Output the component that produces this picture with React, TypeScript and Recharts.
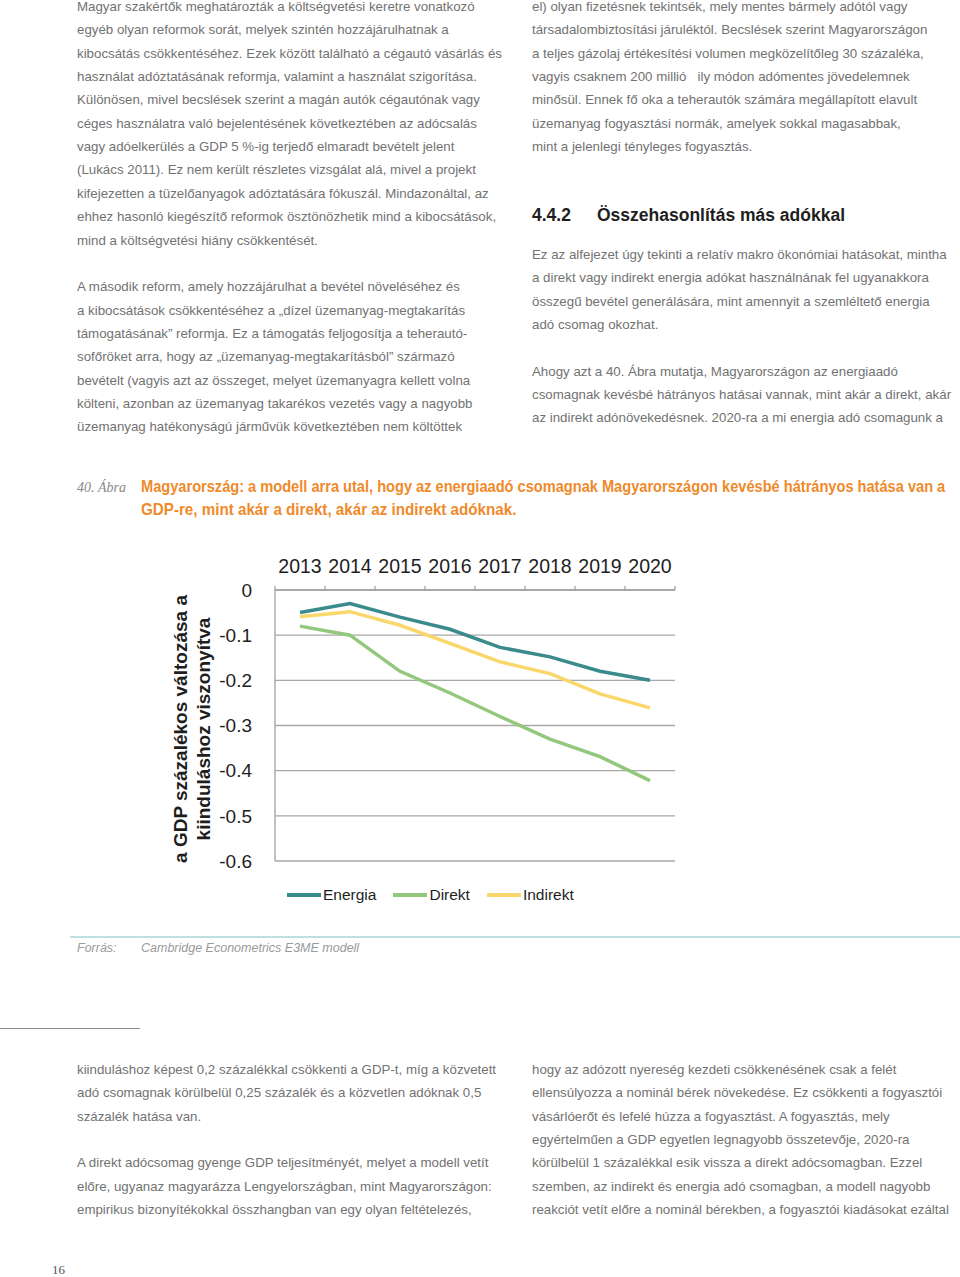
import React, { useLayoutEffect, useRef, useState } from 'react';
import { LineChart, Line, XAxis, YAxis, CartesianGrid, Legend } from 'recharts';

// GDP change vs. baseline (%)
const years = ['2013', '2014', '2015', '2016', '2017', '2018', '2019', '2020'];
const energia = [-0.05, -0.03, -0.06, -0.087, -0.127, -0.148, -0.18, -0.2];
const direkt = [-0.08, -0.1, -0.18, -0.228, -0.28, -0.33, -0.369, -0.422];
const indirekt = [-0.059, -0.048, -0.078, -0.118, -0.159, -0.185, -0.23, -0.261];
const yTicks = [0, -0.1, -0.2, -0.3, -0.4, -0.5, -0.6];
const seriesOrder = ['Energia', 'Direkt', 'Indirekt'];

const data = years.map((year, i) => ({
  year,
  Energia: energia[i],
  Direkt: direkt[i],
  Indirekt: indirekt[i],
}));

const colors = { Energia: '#3b8a8c', Direkt: '#93c77b', Indirekt: '#fad76a' };

const leftTop = [
  'Magyar szakértők meghatározták a költségvetési keretre vonatkozó',
  'egyéb olyan reformok sorát, melyek szintén hozzájárulhatnak a',
  'kibocsátás csökkentéséhez. Ezek között található a cégautó vásárlás és',
  'használat adóztatásának reformja, valamint a használat szigorítása.',
  'Különösen, mivel becslések szerint a magán autók cégautónak vagy',
  'céges használatra való bejelentésének következtében az adócsalás',
  'vagy adóelkerülés a GDP 5 %-ig terjedő elmaradt bevételt jelent',
  '(Lukács 2011). Ez nem került részletes vizsgálat alá, mivel a projekt',
  'kifejezetten a tüzelőanyagok adóztatására fókuszál. Mindazonáltal, az',
  'ehhez hasonló kiegészítő reformok ösztönözhetik mind a kibocsátások,',
  'mind a költségvetési hiány csökkentését.',
  '',
  'A második reform, amely hozzájárulhat a bevétel növeléséhez és',
  'a kibocsátások csökkentéséhez a „dízel üzemanyag-megtakarítás',
  'támogatásának” reformja. Ez a támogatás feljogosítja a teherautó-',
  'sofőröket arra, hogy az „üzemanyag-megtakarításból” származó',
  'bevételt (vagyis azt az összeget, melyet üzemanyagra kellett volna',
  'költeni, azonban az üzemanyag takarékos vezetés vagy a nagyobb',
  'üzemanyag hatékonyságú járművük következtében nem költöttek',
];

const rightTop = [
  'el) olyan fizetésnek tekintsék, mely mentes bármely adótól vagy',
  'társadalombiztosítási járuléktól. Becslések szerint Magyarországon',
  'a teljes gázolaj értékesítési volumen megközelítőleg 30 százaléka,',
  'vagyis csaknem 200 millió   ily módon adómentes jövedelemnek',
  'minősül. Ennek fő oka a teherautók számára megállapított elavult',
  'üzemanyag fogyasztási normák, amelyek sokkal magasabbak,',
  'mint a jelenlegi tényleges fogyasztás.',
];

const rightMid = [
  'Ez az alfejezet úgy tekinti a relatív makro ökonómiai hatásokat, mintha',
  'a direkt vagy indirekt energia adókat használnának fel ugyanakkora',
  'összegű bevétel generálására, mint amennyit a szemléltető energia',
  'adó csomag okozhat.',
  '',
  'Ahogy azt a 40. Ábra mutatja, Magyarországon az energiaadó',
  'csomagnak kevésbé hátrányos hatásai vannak, mint akár a direkt, akár',
  'az indirekt adónövekedésnek. 2020-ra a mi energia adó csomagunk a',
];

const leftBottom = [
  'kiinduláshoz képest 0,2 százalékkal csökkenti a GDP-t, míg a közvetett',
  'adó csomagnak körülbelül 0,25 százalék és a közvetlen adóknak 0,5',
  'százalék hatása van.',
  '',
  'A direkt adócsomag gyenge GDP teljesítményét, melyet a modell vetít',
  'előre, ugyanaz magyarázza Lengyelországban, mint Magyarországon:',
  'empirikus bizonyítékokkal összhangban van egy olyan feltételezés,',
];

const rightBottom = [
  'hogy az adózott nyereség kezdeti csökkenésének csak a felét',
  'ellensúlyozza a nominál bérek növekedése. Ez csökkenti a fogyasztói',
  'vásárlóerőt és lefelé húzza a fogyasztást. A fogyasztás, mely',
  'egyértelműen a GDP egyetlen legnagyobb összetevője, 2020-ra',
  'körülbelül 1 százalékkal esik vissza a direkt adócsomagban. Ezzel',
  'szemben, az indirekt és energia adó csomagban, a modell nagyobb',
  'reakciót vetít előre a nominál bérekben, a fogyasztói kiadásokat ezáltal',
];

const captionLines = [
  'Magyarország: a modell arra utal, hogy az energiaadó csomagnak Magyarországon kevésbé hátrányos hatása van a',
  'GDP-re, mint akár a direkt, akár az indirekt adóknak.',
];
const captionWidths = [804, 375];

const bodyFont = '"Liberation Sans", Arial, sans-serif';
const LINE_H = 23.35;

const TextBlock = ({ lines, left, firstCenter }: { lines: string[]; left: number; firstCenter: number }) => (
  <>
    {lines.map((l, i) => (
      <div
        key={i}
        style={{
          position: 'absolute',
          left,
          top: Math.max(0, firstCenter + i * LINE_H - 7),
          fontFamily: bodyFont,
          fontSize: 13.3,
          lineHeight: '14px',
          color: '#727272',
          whiteSpace: 'pre',
        }}
      >
        {l}
      </div>
    ))}
  </>
);

// squeezes a line horizontally to a target width (the original uses a condensed face)
const FitLine = ({ text, width, left, top }: { text: string; width: number; left: number; top: number }) => {
  const ref = useRef<HTMLDivElement>(null);
  const [scale, setScale] = useState(0.85);
  useLayoutEffect(() => {
    if (ref.current) {
      const natural = ref.current.scrollWidth;
      if (natural > 0) setScale(width / natural);
    }
  }, [text, width]);
  return (
    <div
      ref={ref}
      style={{
        position: 'absolute',
        left,
        top,
        fontFamily: bodyFont,
        fontWeight: 'bold',
        fontSize: 17,
        lineHeight: '20px',
        color: '#ef8a2b',
        whiteSpace: 'pre',
        transform: `scaleX(${scale})`,
        transformOrigin: '0 0',
      }}
    >
      {text}
    </div>
  );
};

const YearTick = (props: any) => {
  const { x, y, payload, index } = props;
  const half = payload && payload.offset ? payload.offset : 25;
  const axisY = y + 17;
  const last = index === years.length - 1;
  return (
    <g>
      <line x1={x - half} x2={x - half} y1={axisY} y2={axisY - 4} stroke="#9c9c9c" strokeWidth={1.2} />
      {last && <line x1={x + half} x2={x + half} y1={axisY} y2={axisY - 4} stroke="#9c9c9c" strokeWidth={1.2} />}
      <text x={x} y={y} textAnchor="middle" fontSize={19.5} fill="#1e1e1e" fontFamily={bodyFont}>
        {payload.value}
      </text>
    </g>
  );
};

const LegendContent = (props: any) => {
  const items = [...(props.payload || [])].sort(
    (a: any, b: any) => seriesOrder.indexOf(a.value) - seriesOrder.indexOf(b.value)
  );
  return (
    <div style={{ display: 'flex', paddingLeft: 127, fontFamily: bodyFont, fontSize: 15.5, color: '#1e1e1e' }}>
      {items.map((p: any) => (
        <div key={p.value} style={{ display: 'flex', alignItems: 'center', marginRight: 17 }}>
          <div style={{ width: 34, height: 4, background: p.color, marginRight: 2 }} />
          <span>{p.value}</span>
        </div>
      ))}
    </div>
  );
};

export default function App() {
  return (
    <div style={{ position: 'absolute', left: 0, top: 0, width: 960, height: 1277, background: '#fff', overflow: 'hidden' }}>
      <TextBlock lines={leftTop} left={77} firstCenter={7} />
      <TextBlock lines={rightTop} left={532} firstCenter={7} />
      <div
        style={{
          position: 'absolute',
          left: 532,
          top: 203,
          fontFamily: bodyFont,
          fontWeight: 'bold',
          fontSize: 17.5,
          color: '#1e1e1e',
          whiteSpace: 'pre',
          lineHeight: '24px',
        }}
      >
        <span style={{ display: 'inline-block', width: 65 }}>4.4.2</span>Összehasonlítás más adókkal
      </div>
      <TextBlock lines={rightMid} left={532} firstCenter={255} />

      {/* caption */}
      <div
        style={{
          position: 'absolute',
          left: 77,
          top: 476,
          fontFamily: '"Liberation Serif", serif',
          fontStyle: 'italic',
          fontSize: 14,
          color: '#8a8a8a',
          lineHeight: '23px',
        }}
      >
        40. Ábra
      </div>
      {captionLines.map((t, i) => (
        <FitLine key={i} text={t} width={captionWidths[i]} left={141} top={477 + i * 23} />
      ))}

      {/* chart */}
      <div style={{ position: 'absolute', left: 160, top: 540, width: 540, height: 380 }}>
        <LineChart width={540} height={380} data={data} margin={{ top: 10, right: 25, left: 0, bottom: 59 }}>
          <CartesianGrid horizontal vertical={false} stroke="#a8a8a8" strokeWidth={1.3} />
          <XAxis
            dataKey="year"
            orientation="top"
            scale="band"
            height={40}
            tickSize={4}
            tickMargin={13}
            tickLine={false}
            axisLine={{ stroke: '#a0a0a0', strokeWidth: 1.3 }}
            tick={<YearTick />}
            interval={0}
          />
          <YAxis
            type="number"
            domain={[-0.6, 0]}
            ticks={yTicks}
            width={115}
            tickLine={false}
            tickMargin={17}
            axisLine={{ stroke: '#a0a0a0', strokeWidth: 1.3 }}
            tickFormatter={(v: number) => (v === 0 ? '0' : v.toFixed(1))}
            tick={{ fontSize: 19, fill: '#1e1e1e', fontFamily: bodyFont }}
            interval={0}
          />
          <Legend
            layout="horizontal"
            verticalAlign="middle"
            align="center"
            content={<LegendContent />}
            wrapperStyle={{ top: 346, left: 0, width: 540 }}
          />
          <Line dataKey="Energia" stroke={colors.Energia} strokeWidth={3.5} dot={false} isAnimationActive={false} />
          <Line dataKey="Direkt" stroke={colors.Direkt} strokeWidth={3.5} dot={false} isAnimationActive={false} />
          <Line dataKey="Indirekt" stroke={colors.Indirekt} strokeWidth={3.5} dot={false} isAnimationActive={false} />
        </LineChart>
        <div
          style={{
            position: 'absolute',
            left: 31.5 - 150,
            top: 189 - 23,
            width: 300,
            height: 46,
            transform: 'rotate(-90deg)',
            textAlign: 'center',
            fontFamily: bodyFont,
            fontWeight: 'bold',
            fontSize: 19,
            lineHeight: '23px',
            color: '#1e1e1e',
            whiteSpace: 'pre',
          }}
        >
          <div>a GDP százalékos változása a</div>
          <div>kiinduláshoz viszonyítva</div>
        </div>
      </div>

      {/* source */}
      <div style={{ position: 'absolute', left: 70, top: 936, width: 890, height: 2, background: '#bfe0e0' }} />
      <div
        style={{
          position: 'absolute',
          left: 77,
          top: 939,
          fontFamily: bodyFont,
          fontStyle: 'italic',
          fontSize: 12.5,
          color: '#9a9a9a',
          lineHeight: '18px',
          whiteSpace: 'pre',
        }}
      >
        Forrás:
      </div>
      <div
        style={{
          position: 'absolute',
          left: 141,
          top: 939,
          fontFamily: bodyFont,
          fontStyle: 'italic',
          fontSize: 12.5,
          color: '#9a9a9a',
          lineHeight: '18px',
          whiteSpace: 'pre',
        }}
      >
        Cambridge Econometrics E3ME modell
      </div>

      <div style={{ position: 'absolute', left: 0, top: 1028, width: 140, height: 1, background: '#8a8a8a' }} />

      <TextBlock lines={leftBottom} left={77} firstCenter={1070} />
      <TextBlock lines={rightBottom} left={532} firstCenter={1070} />

      <div
        style={{
          position: 'absolute',
          left: 52,
          top: 1261,
          fontFamily: '"Liberation Serif", serif',
          fontSize: 13,
          color: '#555',
          lineHeight: '18px',
        }}
      >
        16
      </div>
    </div>
  );
}
